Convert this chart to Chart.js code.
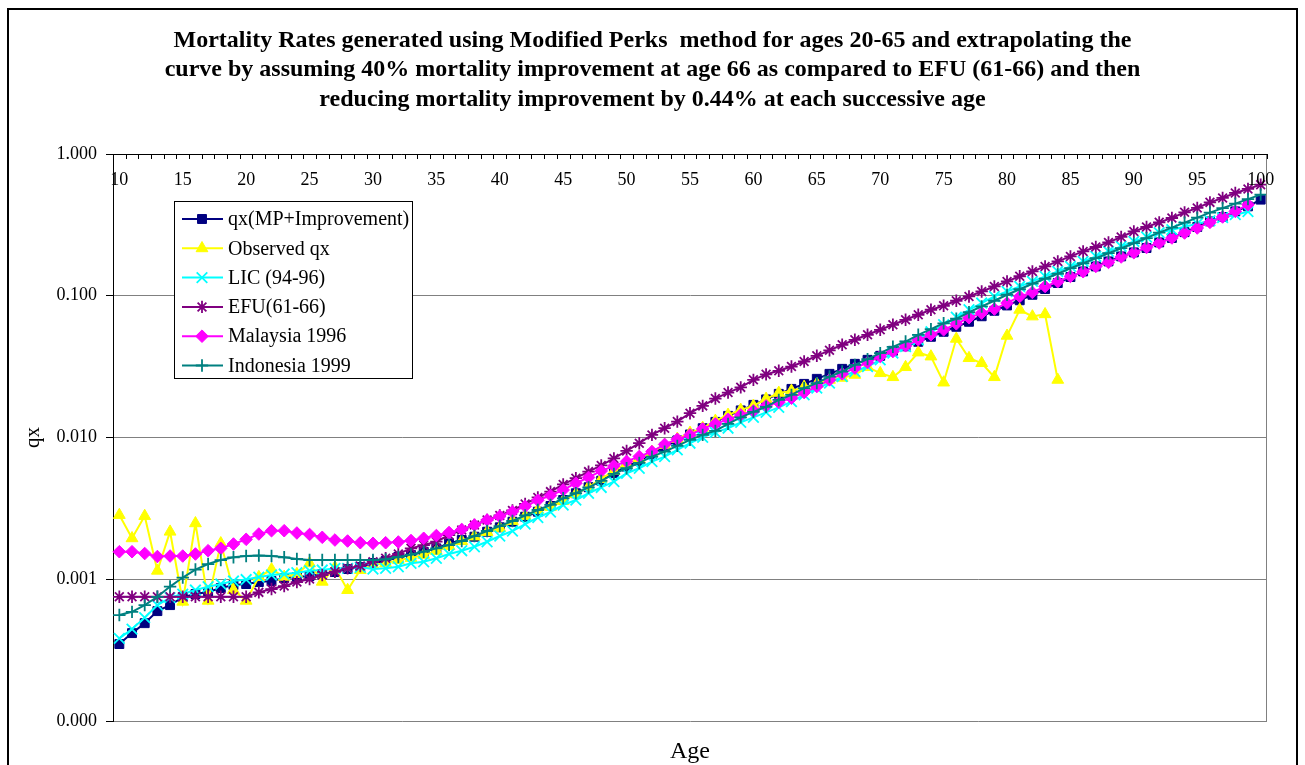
<!DOCTYPE html>
<html>
<head>
<meta charset="utf-8">
<title>Mortality Rates - Modified Perks</title>
<script src="https://cdn.jsdelivr.net/npm/chart.js@4.4.1/dist/chart.umd.min.js"></script>
<style>
  html, body { margin: 0; padding: 0; background: #fff; }
  #wrap { position: relative; width: 1305px; height: 765px; }
</style>
</head>
<body>
<div id="wrap"><canvas id="myChart" width="1305" height="765"></canvas></div>
<script>
// ages on the category axis
const ages = [10, 11, 12, 13, 14, 15, 16, 17, 18, 19, 20, 21, 22, 23, 24, 25, 26, 27, 28, 29,
  30, 31, 32, 33, 34, 35, 36, 37, 38, 39, 40, 41, 42, 43, 44, 45, 46, 47, 48, 49,
  50, 51, 52, 53, 54, 55, 56, 57, 58, 59, 60, 61, 62, 63, 64, 65, 66, 67, 68, 69,
  70, 71, 72, 73, 74, 75, 76, 77, 78, 79, 80, 81, 82, 83, 84, 85, 86, 87, 88, 89,
  90, 91, 92, 93, 94, 95, 96, 97, 98, 99, 100];

// qx(MP+Improvement)
const mpImproved = [0.000349, 0.000417, 0.000490, 0.000596, 0.000657, 0.000748, 0.000786, 0.000812, 0.000867, 0.000910,
  0.000925, 0.000955, 0.000971, 0.001020, 0.001036, 0.001053, 0.001088, 0.001124, 0.001180, 0.001219,
  0.001302, 0.001344, 0.001435, 0.001482, 0.001564, 0.001652, 0.001792, 0.001891, 0.001996, 0.002165,
  0.002325, 0.002547, 0.002762, 0.002997, 0.003287, 0.003624, 0.004043, 0.004457, 0.004962, 0.005597,
  0.006229, 0.006836, 0.007658, 0.008584, 0.009539, 0.01051, 0.01163, 0.01289, 0.01421, 0.01554,
  0.01699, 0.01858, 0.02032, 0.02203, 0.02390, 0.02593, 0.02813, 0.03051, 0.03310, 0.03532,
  0.03770, 0.04089, 0.04398, 0.04732, 0.05133, 0.05567, 0.06040, 0.06553, 0.07165, 0.07833,
  0.08540, 0.0929, 0.1016, 0.1115, 0.1229, 0.1355, 0.1484, 0.1610, 0.1747, 0.1895,
  0.2022, 0.2172, 0.2378, 0.2556, 0.2809, 0.3056, 0.3346, 0.3595, 0.3938, 0.4272, 0.4764];

// Observed qx (ages 10-84)
const observed = [0.002840, 0.001945, 0.002794, 0.001148, 0.002165, 0.000694, 0.002481, 0.000705, 0.001792, 0.000839,
  0.000705, 0.001036, 0.001174, 0.001041, 0.001088, 0.001295, 0.000960, 0.001213, 0.000839, 0.001161,
  0.001260, 0.001295, 0.001366, 0.001411, 0.001482, 0.001582, 0.001715, 0.001861, 0.002002, 0.002154,
  0.002299, 0.002576, 0.002794, 0.003081, 0.003235, 0.003566, 0.003997, 0.004477, 0.005099, 0.005808,
  0.006510, 0.007062, 0.007913, 0.008866, 0.009775, 0.01078, 0.01169, 0.01310, 0.01444, 0.01566,
  0.01672, 0.01873, 0.02065, 0.02133, 0.02277, 0.02390, 0.02551, 0.02636, 0.02767, 0.03136,
  0.02844, 0.02665, 0.03136, 0.03977, 0.03727, 0.02441, 0.04969, 0.03631, 0.03347, 0.02665,
  0.05218, 0.07963, 0.07142, 0.07403, 0.02551,
  null, null, null, null, null, null, null, null, null, null, null, null, null, null, null, null];

// LIC (94-96)
const lic9496 = [0.000383, 0.000445, 0.000536, 0.000657, 0.000742, 0.000786, 0.000839, 0.000885, 0.000925, 0.000971,
  0.000995, 0.001036, 0.001071, 0.001088, 0.001111, 0.001148, 0.001161, 0.001194, 0.001194, 0.001213,
  0.001180, 0.001194, 0.001225, 0.001295, 0.001329, 0.001405, 0.001507, 0.001590, 0.001696, 0.001840,
  0.002018, 0.002189, 0.002453, 0.002726, 0.002982, 0.003342, 0.003624, 0.004043, 0.004443, 0.004882,
  0.005597, 0.006070, 0.006760, 0.007329, 0.008175, 0.009116, 0.01002, 0.01086, 0.01163, 0.01278,
  0.01386, 0.01504, 0.01632, 0.01793, 0.01999, 0.02229, 0.02418, 0.02692, 0.02920, 0.03167,
  0.03532, 0.03938, 0.04384, 0.04889, 0.05567, 0.06240, 0.07050, 0.07963, 0.08881, 0.09888,
  0.1072, 0.1163, 0.1262, 0.1369, 0.1484, 0.1610, 0.1747, 0.1895, 0.2055, 0.2229,
  0.2417, 0.2598, 0.2786, 0.2924, 0.3071, 0.3224, 0.3386, 0.3555, 0.3733, 0.3919, null];

// EFU (61-66)
const efu6166 = [0.000752, 0.000752, 0.000752, 0.000752, 0.000752, 0.000752, 0.000752, 0.000752, 0.000752, 0.000752,
  0.000752, 0.000808, 0.000853, 0.000895, 0.000955, 0.001003, 0.001071, 0.001130, 0.001194, 0.001239,
  0.001329, 0.001405, 0.001507, 0.001652, 0.001743, 0.001840, 0.002051, 0.002226, 0.002414, 0.002618,
  0.002818, 0.003055, 0.003397, 0.003776, 0.004150, 0.004665, 0.005161, 0.005744, 0.006353, 0.007118,
  0.008043, 0.009116, 0.01043, 0.01163, 0.01295, 0.01484, 0.01672, 0.01882, 0.02075, 0.02258,
  0.02551, 0.02789, 0.02954, 0.03167, 0.03436, 0.03770, 0.04122, 0.04508, 0.04889, 0.05304,
  0.05753, 0.06240, 0.06768, 0.07342, 0.07963, 0.08499, 0.09219, 0.09888, 0.1072, 0.1163,
  0.1262, 0.1373, 0.1484, 0.1610, 0.1747, 0.1895, 0.2055, 0.2207, 0.2378, 0.2598,
  0.2844, 0.3056, 0.3294, 0.3537, 0.3876, 0.4163, 0.4559, 0.4898, 0.5313, 0.5668, 0.6079];

// Malaysia 1996
const malaysia96 = [0.001564, 0.001564, 0.001519, 0.001446, 0.001458, 0.001458, 0.001507, 0.001590, 0.001652, 0.001772,
  0.001913, 0.002085, 0.002200, 0.002200, 0.002120, 0.002069, 0.001976, 0.001891, 0.001861, 0.001810,
  0.001792, 0.001810, 0.001831, 0.001876, 0.001945, 0.002035, 0.002137, 0.002244, 0.002414, 0.002618,
  0.002780, 0.002997, 0.003271, 0.003606, 0.003899, 0.004264, 0.004757, 0.005227, 0.005808, 0.006300,
  0.006780, 0.007353, 0.007950, 0.008938, 0.009727, 0.01043, 0.01150, 0.01247, 0.01342, 0.01444,
  0.01541, 0.01672, 0.01770, 0.01895, 0.02075, 0.02288, 0.02551, 0.02813, 0.03086, 0.03381,
  0.03727, 0.04041, 0.04435, 0.04889, 0.05304, 0.05753, 0.06342, 0.06993, 0.07547, 0.08055,
  0.08881, 0.09888, 0.1055, 0.1163, 0.1256, 0.1369, 0.1477, 0.1610, 0.1719, 0.1877,
  0.2012, 0.2189, 0.2356, 0.2556, 0.2772, 0.3006, 0.3294, 0.3595, 0.3938, 0.4392, null];

// Indonesia 1999
const indonesia99 = [0.000559, 0.000589, 0.000657, 0.000752, 0.000888, 0.001028, 0.001171, 0.001280, 0.001366, 0.001428,
  0.001458, 0.001470, 0.001458, 0.001428, 0.001389, 0.001366, 0.001366, 0.001366, 0.001366, 0.001366,
  0.001366, 0.001382, 0.001435, 0.001494, 0.001564, 0.001652, 0.001743, 0.001861, 0.002018, 0.002189,
  0.002374, 0.002576, 0.002818, 0.003081, 0.003342, 0.003726, 0.004043, 0.004443, 0.004938, 0.005534,
  0.006070, 0.006615, 0.007329, 0.007950, 0.008724, 0.009618, 0.01043, 0.01113, 0.01247, 0.01386,
  0.01516, 0.01645, 0.01840, 0.01999, 0.02229, 0.02418, 0.02692, 0.02920, 0.03256, 0.03573,
  0.03938, 0.04363, 0.04755, 0.05304, 0.05818, 0.06393, 0.06880, 0.07648, 0.08403, 0.09219,
  0.1016, 0.1111, 0.1216, 0.1318, 0.1429, 0.1564, 0.1696, 0.1840, 0.1996, 0.2165,
  0.2348, 0.2547, 0.2786, 0.3021, 0.3278, 0.3555, 0.3857, 0.4149, 0.4464, 0.4803, 0.5168];

// log axis decades
const yTicks = [0.0001, 0.001, 0.01, 0.1, 1];

const titleLines = [
  'Mortality Rates generated using Modified Perks  method for ages 20-65 and extrapolating the',
  'curve by assuming 40% mortality improvement at age 66 as compared to EFU (61-66) and then',
  'reducing mortality improvement by 0.44% at each successive age'
];

const serif = '"Liberation Serif", "Times New Roman", serif';

// series look: line colour + marker
const series = [
  { label: 'qx(MP+Improvement)', data: mpImproved, color: '#000080', style: 'rect', r: 6.3, bw: 1 },
  { label: 'Observed qx', data: observed, color: '#FFFF00', style: 'triangle', r: 6.8, bw: 1 },
  { label: 'LIC (94-96)', data: lic9496, color: '#00FFFF', style: 'crossRot', r: 7.5, bw: 1.8 },
  { label: 'EFU(61-66)', data: efu6166, color: '#800080', style: 'star', r: 6.2, bw: 1.8 },
  { label: 'Malaysia 1996', data: malaysia96, color: '#FF00FF', style: 'rectRot', r: 6.3, bw: 1 },
  { label: 'Indonesia 1999', data: indonesia99, color: '#008080', style: 'cross', r: 6.2, bw: 1.8 }
];

// white page + outer chart frame
const framePlugin = {
  id: 'frame',
  beforeDraw(chart) {
    const ctx = chart.ctx;
    ctx.save();
    ctx.fillStyle = '#fff';
    ctx.fillRect(0, 0, chart.width, chart.height);
    ctx.strokeStyle = '#000';
    ctx.lineWidth = 2;
    ctx.strokeRect(8, 9, 1289, 800);
    ctx.restore();
  }
};

// age axis sits on the top edge, ticks and labels inside the plot
const topAxisPlugin = {
  id: 'topAxis',
  afterDraw(chart) {
    const { ctx, chartArea: a } = chart;
    const x = chart.scales.x;
    const step = x.getPixelForValue(1) - x.getPixelForValue(0);
    ctx.save();
    ctx.strokeStyle = '#808080';
    ctx.lineWidth = 1;
    ctx.beginPath();
    ctx.moveTo(a.right - 0.5, a.top);
    ctx.lineTo(a.right - 0.5, a.bottom);
    ctx.stroke();

    ctx.strokeStyle = '#000';
    ctx.beginPath();
    ctx.moveTo(a.left, a.top + 0.5);
    ctx.lineTo(a.right, a.top + 0.5);
    for (let i = 0; i <= ages.length; i++) {
      const px = Math.round(x.getPixelForValue(i) - step / 2) + 0.5;
      ctx.moveTo(px, a.top);
      ctx.lineTo(px, a.top + 5);
    }
    ctx.stroke();

    ctx.fillStyle = '#000';
    ctx.font = '18px ' + serif;
    ctx.textAlign = 'center';
    ctx.textBaseline = 'middle';
    ages.forEach((age, i) => {
      if (age % 5 === 0) ctx.fillText(String(age), x.getPixelForValue(i), a.top + 26);
    });
    ctx.restore();
  }
};

// boxed legend inside the upper-left part of the plot
const boxLegendPlugin = {
  id: 'boxLegend',
  afterDraw(chart) {
    const ctx = chart.ctx;
    const left = 174, top = 201, w = 238, h = 177;
    ctx.save();
    ctx.fillStyle = '#fff';
    ctx.fillRect(left, top, w, h);
    ctx.strokeStyle = '#000';
    ctx.lineWidth = 1;
    ctx.strokeRect(left + 0.5, top + 0.5, w, h);
    ctx.font = '20px ' + serif;
    ctx.textAlign = 'left';
    ctx.textBaseline = 'middle';
    series.forEach((s, i) => {
      const y = top + 18 + i * 29.3;
      ctx.strokeStyle = s.color;
      ctx.lineWidth = 2;
      ctx.beginPath();
      ctx.moveTo(left + 8, y);
      ctx.lineTo(left + 49, y);
      ctx.stroke();
      ctx.fillStyle = s.color;
      ctx.lineWidth = s.bw;
      Chart.helpers.drawPoint(ctx, { pointStyle: s.style, radius: s.r, rotation: 0, borderWidth: s.bw }, left + 28, y);
      ctx.fillStyle = '#000';
      ctx.fillText(s.label, left + 54, y + 1);
    });
    ctx.restore();
  }
};

const ctx = document.getElementById('myChart').getContext('2d');
const myChart = new Chart(ctx, {
  type: 'line',
  data: {
    labels: ages.map(String),
    datasets: series.map((s, i) => ({
      label: s.label,
      data: s.data,
      borderColor: s.color,
      backgroundColor: s.color,
      borderWidth: 2,
      pointStyle: s.style,
      pointRadius: s.r,
      pointBorderWidth: s.bw,
      pointBackgroundColor: s.color,
      pointBorderColor: s.color,
      tension: 0,
      spanGaps: false,
      order: series.length - i
    }))
  },
  options: {
    responsive: false,
    animation: false,
    devicePixelRatio: 1,
    layout: { padding: { left: 38, right: 38, top: 0, bottom: 0 } },
    plugins: {
      legend: { display: false },
      tooltip: { enabled: false },
      title: {
        display: true,
        text: titleLines,
        color: '#000',
        font: { family: serif, size: 24, weight: 'bold', lineHeight: 29.5 / 24 },
        padding: { top: 26, bottom: 0 }
      },
      subtitle: {
        display: true,
        position: 'bottom',
        fullSize: false,
        text: 'Age',
        color: '#000',
        font: { family: serif, size: 24, lineHeight: 1 },
        padding: { top: 19, bottom: 1 }
      }
    },
    scales: {
      x: {
        position: 'top',
        offset: true,
        grid: { display: false },
        border: { display: false },
        ticks: { display: false },
        afterFit: s => { s.height = 39.5; }
      },
      y: {
        type: 'logarithmic',
        min: 0.0001,
        max: 1,
        afterBuildTicks: s => { s.ticks = yTicks.map(v => ({ value: v })); },
        ticks: {
          callback: v => Number(v).toFixed(3),
          color: '#000',
          font: { family: serif, size: 18 },
          padding: 9
        },
        grid: { color: '#808080', tickColor: '#000', tickLength: 7, lineWidth: 1 },
        border: { color: '#000', width: 1 },
        title: {
          display: true,
          text: 'qx',
          color: '#000',
          font: { family: serif, size: 21 },
          padding: { top: -17.6, bottom: 0 }
        },
        afterFit: s => { s.width = 75; }
      }
    }
  },
  plugins: [framePlugin, topAxisPlugin, boxLegendPlugin]
});
</script>
</body>
</html>
